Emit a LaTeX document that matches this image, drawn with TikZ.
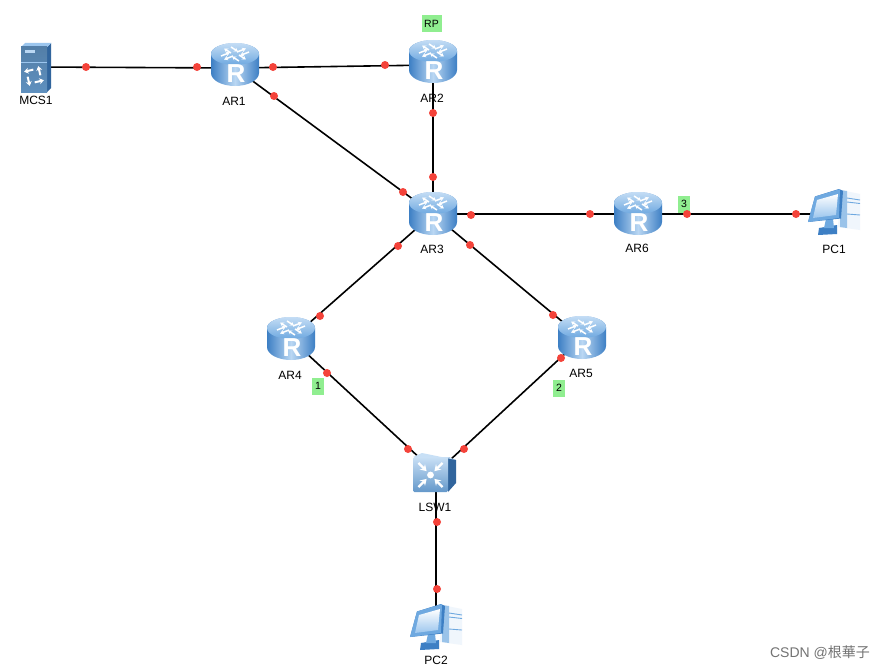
\documentclass[tikz,border=0pt]{standalone}
\usepackage{fontspec}
\setmainfont{Liberation Sans}
\newfontfamily\cjkfont{Noto Sans CJK SC}
\usetikzlibrary{arrows.meta}
\definecolor{dotred}{HTML}{F4433A}
\definecolor{tagbg}{HTML}{90EE90}
\definecolor{rdark}{HTML}{3D7FC4}
\definecolor{rmid}{HTML}{6FA9E0}
\definecolor{rtop}{HTML}{9CC6EE}
\tikzset{
  x=1pt,y=1pt,
  anchorbox/.style={inner sep=0pt,minimum width=#1,minimum height=#1,draw=none},
  link/.style={draw=black,line width=1.6pt},
  pt/.style={circle,fill=dotred,draw=none,inner sep=0pt,minimum size=8pt},
  dev/.style={font=\fontsize{12}{14}\selectfont,text=black,inner sep=0pt},
  tag/.style={fill=tagbg,font=\fontsize{10.5}{12}\selectfont,inner sep=0pt,minimum width=#1,minimum height=17pt},
  wht/.style={draw=white,line width=1.5pt,-{Stealth[length=4pt,width=4.5pt]}},
  pics/router/.style={code={
    \shade[left color=rdark,right color=rdark,middle color=rtop!70!white] (-24,10) -- (-24,-9) arc[start angle=180,end angle=360,x radius=24,y radius=13] -- (24,10) arc[start angle=0,end angle=180,x radius=24,y radius=11] -- cycle;
    \shade[top color=rtop!60!white,bottom color=rmid] (0,10) ellipse[x radius=24,y radius=11];
    \begin{scope}[shift={(0,10)},yscale=.5]
      \foreach \a in {0,90,180,270}{
        \draw[wht,rotate=\a] (2,4) -- (11,11);
        \draw[wht,rotate=\a] (14,4) -- (5,-3);
      }
    \end{scope}
    \node[text=white,inner sep=0pt,font=\bfseries\fontsize{26}{26}\selectfont] at (1,-10) {R};
  }},
  pics/switchicon/.style={code={
    \fill[rdark!80!black] (12,16) -- (20,13) -- (20,-10) -- (12,-19) -- cycle;
    \fill[rtop!55!white] (-23,16) -- (-14,20) -- (20,13) -- (12,16) -- cycle;
    \shade[top color=rtop!55!white,bottom color=rmid!90!black,rounded corners=1.5pt] (-23,16) rectangle (12,-19);
    \fill[white] (-5.5,-2) circle[radius=3.4];
    \foreach \a in {45,135,225,315}{
      \begin{scope}[shift={(-5.5,-2)},rotate=\a]
        \draw[draw=white,line width=2.4pt,{Stealth[length=6pt,width=7.5pt]}-] (5.5,0) -- (17,0);
      \end{scope}
    }
  }},
  pics/pcicon/.style={code={
    \fill[white!85!rtop] (6,23) -- (26,19) -- (26,-17) -- (4,-14) -- cycle;
    \fill[rmid!70] (6,23) -- (6,-14) -- (13,-15) -- (13,22) -- cycle;
    \draw[rmid,line width=.9pt] (13,15) -- (26,13) (13,11) -- (26,9.5) (13,-1) -- (26,-2);
    \fill[rdark] (-15,-15) -- (3,-12) -- (3,-21) -- (-16,-22) -- cycle;
    \fill[rmid] (-8,-6) -- (-1,-6) -- (0,-15) -- (-10,-15) -- cycle;
    \fill[rdark] (-19,16.5) -- (5,24) -- (9,22) -- (7,-5.5) -- (-26,-9) -- cycle;
    \fill[rmid] (-19,16.5) -- (6,24) -- (5,-5) -- (-26,-9) -- cycle;
    \shade[top color=white,bottom color=rtop] (-17,13) -- (4,19) -- (2,-2) -- (-21,-5) -- cycle;
  }},
  pics/servericon/.style={code={
    \fill[rdark!80!black] (11,20) -- (15,24) -- (15,-21) -- (11,-25) -- cycle;
    \fill[rtop] (-15,20) -- (-11,24) -- (15,24) -- (11,20) -- cycle;
    \shade[top color=rmid!75!black,bottom color=rmid!85!black] (-15,20) rectangle (11,-25);
    \fill[rtop!70!white] (-11,17) rectangle (-1,14);
    \draw[rtop,line width=.6pt] (-15,5) -- (11,5);
    \foreach \a in {45,135,225,315}{
      \begin{scope}[shift={(-2,-9)},rotate=\a]
        \draw[draw=white,line width=2pt,-{Stealth[length=4.5pt,width=6pt]}] (5,-4) -- (10,4);
      \end{scope}
    }
  }},
}
\begin{document}
\begin{tikzpicture}
\useasboundingbox (0,0) rectangle (885,-669);
\fill[white] (0,0) rectangle (885,-669);
% device anchors
\node[anchorbox=30pt] (MCS) at (36,-67) {};
\node[anchorbox=40pt] (AR1) at (235,-68) {};
\node[anchorbox=40pt] (AR2) at (433,-65) {};
\node[anchorbox=40pt] (AR3) at (433,-214) {};
\node[anchorbox=40pt] (AR6) at (638,-214) {};
\node[anchorbox=40pt] (AR4) at (291,-339) {};
\node[anchorbox=40pt] (AR5) at (582,-338) {};
\node[anchorbox=36pt] (SW) at (436,-473) {};
\node[anchorbox=40pt] (PC1) at (834,-214) {};
\node[anchorbox=40pt] (PC2) at (436,-628) {};
% connectors
\draw[link] (MCS.center) -- (AR1.center);
\draw[link] (AR1.center) -- (AR2.center);
\draw[link] (AR1.center) -- (AR3.center);
\draw[link] (AR2.center) -- (AR3.center);
\draw[link] (AR3.center) -- (AR6.center);
\draw[link] (AR6.center) -- (PC1.center);
\draw[link] (AR3.center) -- (AR4.center);
\draw[link] (AR3.center) -- (AR5.center);
\draw[link] (AR4.center) -- (SW.center);
\draw[link] (AR5.center) -- (SW.center);
\draw[link] (SW.center) -- (PC2.center);
% icons
\pic at (36,-67) {servericon};
\pic at (235,-64) {router};
\pic at (433,-61) {router};
\pic at (433,-213) {router};
\pic at (638,-213) {router};
\pic at (291,-338) {router};
\pic at (582,-337) {router};
\pic at (436,-473) {switchicon};
\pic at (834,-213) {pcicon};
\pic at (436,-628) {pcicon};
% tags
\node[tag=20pt] (tRP) at (431.5,-24) {RP};
\node[tag=12pt] (t1) at (318,-386) {1};
\node[tag=12pt] (t2) at (559,-388) {2};
\node[tag=12pt] (t3) at (684,-204) {3};
% interface dots
\foreach \x/\y [count=\i] in {86/67,197/67,273/67,385/65,274/96,403/192,433/113,433/177,471/215,590/214,687/214,796/214,398/246,320/316,470/245,553/315,327/373,408/449,561/358,464/449,437/522,437/589}
  \node[pt] (d\i) at (\x,-\y) {};
% labels
\node[dev] (lMCS) at (36,-100) {MCS1};
\node[dev] (lAR1) at (234,-101) {AR1};
\node[dev] (lAR2) at (432,-98) {AR2};
\node[dev] (lAR3) at (432,-249) {AR3};
\node[dev] (lAR6) at (637,-248) {AR6};
\node[dev] (lAR4) at (290,-375) {AR4};
\node[dev] (lAR5) at (581,-373) {AR5};
\node[dev] (lSW) at (435,-507) {LSW1};
\node[dev] (lPC1) at (834,-249) {PC1};
\node[dev] (lPC2) at (436,-660) {PC2};
\node[text=black!55,font=\fontsize{14}{16}\selectfont,inner sep=0pt] (wm) at (820,-653) {CSDN @{\cjkfont 根華子}};
\end{tikzpicture}
\end{document}
